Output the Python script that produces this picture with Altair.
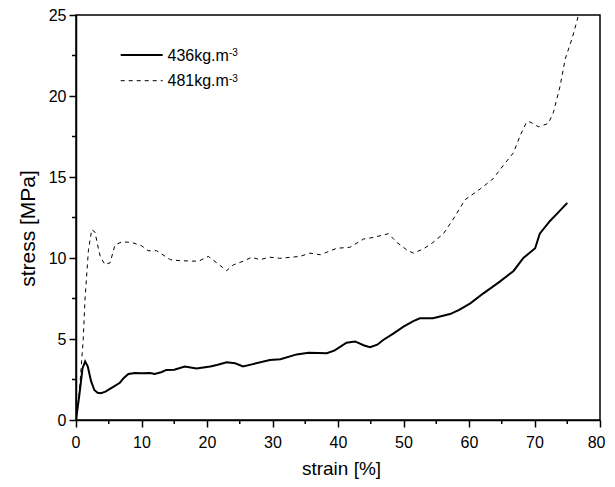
import altair as alt
import pandas as pd

# ---- data ----
x_436 = [0, 0.5, 1.0, 1.4, 1.8, 2.3, 2.8, 3.3, 3.8, 4.5, 5.5, 6.7, 7.3, 8.0, 9.0, 10.0,
         11.3, 12.0, 13.0, 13.8, 15.0, 16.6, 18.4, 20.5, 21.5, 23.0, 24.3, 25.5, 27.0,
         29.6, 31.2, 33.7, 35.5, 38.3, 39.5, 41.3, 42.6, 44.0, 44.9, 46.0, 46.9, 48.5,
         50.0, 51.5, 52.5, 54.5, 57.1, 58.5, 60.2, 62.2, 63.7, 64.7, 66.8, 68.3, 70.1,
         70.8, 72.4, 73.6, 75.0]
y_436 = [0, 1.5, 3.2, 3.62, 3.3, 2.4, 1.85, 1.68, 1.65, 1.75, 2.0, 2.3, 2.6, 2.84, 2.9, 2.88,
         2.9, 2.84, 2.95, 3.09, 3.1, 3.3, 3.18, 3.3, 3.4, 3.57, 3.5, 3.3, 3.45,
         3.7, 3.75, 4.05, 4.15, 4.12, 4.3, 4.77, 4.85, 4.6, 4.49, 4.65, 4.94, 5.35,
         5.76, 6.1, 6.28, 6.28, 6.54, 6.8, 7.2, 7.82, 8.25, 8.54, 9.2, 10.0, 10.6,
         11.5, 12.3, 12.8, 13.4]

x_481 = [0, 0.5, 0.87, 1.1, 1.37, 1.9, 2.4, 2.9, 3.3, 3.7, 4.4, 5.2, 5.95, 7.0, 8.5, 10.0,
         11.0, 12.3, 14.4, 15.9, 18.7, 20.2, 21.5, 23.0, 24.0, 25.5, 26.8, 28.1, 29.6,
         31.1, 34.2, 35.7, 37.3, 39.8, 41.8, 43.9, 45.4, 47.7, 49.0, 50.5, 51.5, 53.0,
         54.5, 56.1, 57.6, 59.4, 61.7, 63.7, 65.2, 66.8, 67.8, 68.8, 69.3, 70.6, 72.1,
         72.9, 73.9, 74.7, 75.7, 76.5, 77.0]
y_481 = [0, 1.65, 3.7, 4.94, 7.4, 10.5, 11.75, 11.6, 10.8, 10.1, 9.6, 9.7, 10.8, 11.0, 10.96, 10.76,
         10.45, 10.45, 9.9, 9.83, 9.8, 10.1, 9.7, 9.22, 9.57, 9.8, 10.04, 9.9, 10.05,
         9.98, 10.1, 10.3, 10.2, 10.6, 10.66, 11.17, 11.27, 11.5, 10.96, 10.5, 10.3, 10.55,
         10.96, 11.5, 12.4, 13.6, 14.26, 14.9, 15.7, 16.5, 17.55, 18.4, 18.4, 18.1, 18.3,
         19.0, 20.6, 22.3, 23.5, 24.65, 25.5]

series = ["436kg.m", "481kg.m"]
sup = "-3"
x_ticks = [0, 10, 20, 30, 40, 50, 60, 70, 80]
x_minor = [5, 15, 25, 35, 45, 55, 65, 75]
y_ticks = [0, 5, 10, 15, 20, 25]
y_minor = [2.5, 7.5, 12.5, 17.5, 22.5]

FONT = "Liberation Sans"

df1 = pd.DataFrame({"strain": x_436, "stress": y_436, "i": range(len(x_436))})
df2 = pd.DataFrame({"strain": x_481, "stress": y_481, "i": range(len(x_481))})

xs = alt.Scale(domain=[0, 80], nice=False, zero=False)
ys = alt.Scale(domain=[0, 25], nice=False, zero=False)

xaxis = alt.Axis(values=x_ticks, title="strain [%]", grid=False, tickSize=7, tickWidth=1.5,
                 domainWidth=1.5, domainColor="black", tickColor="black",
                 labelFontSize=16, labelColor="black", labelFont=FONT,
                 labelBaseline="alphabetic", labelPadding=20.5,
                 labelFlush=True, labelFlushOffset=5,
                 labelOverlap=False, labelBound=False, format="d",
                 titleFontSize=19, titleFont=FONT, titleFontWeight="normal",
                 titleColor="black", titleX=265, titleY=54.5,
                 titleBaseline="alphabetic", titleAlign="center")
yaxis = alt.Axis(values=y_ticks, title="stress [MPa]", grid=False, tickSize=7, tickWidth=1.5,
                 domainWidth=1.5, domainColor="black", tickColor="black",
                 labelFontSize=16, labelColor="black", labelFont=FONT,
                 labelPadding=3, labelBaseline="middle", labelOverlap=False, format="d",
                 titleFontSize=21, titleFont=FONT, titleFontWeight="normal",
                 titleColor="black", titleAngle=270, titleX=-48, titleY=213,
                 titleAlign="center", titleBaseline="middle")

solid = alt.Chart(df1).mark_line(color="black", strokeWidth=2, clip=True).encode(
    x=alt.X("strain:Q", scale=xs, axis=xaxis),
    y=alt.Y("stress:Q", scale=ys, axis=yaxis),
    order="i:Q",
)
dashed = alt.Chart(df2).mark_line(color="black", strokeWidth=1, strokeDash=[4, 4], clip=True).encode(
    x=alt.X("strain:Q", scale=xs),
    y=alt.Y("stress:Q", scale=ys),
    order="i:Q",
)

xminor = alt.Chart(pd.DataFrame({"strain": x_minor})).mark_rule(color="black", strokeWidth=1.5).encode(
    x=alt.X("strain:Q", scale=xs), y=alt.value(405), y2=alt.value(409)
)
yminor = alt.Chart(pd.DataFrame({"stress": y_minor})).mark_rule(color="black", strokeWidth=1.5).encode(
    y=alt.Y("stress:Q", scale=ys), x=alt.value(0), x2=alt.value(-4)
)

legend_layers = []
for k, (name, dash) in enumerate(zip(series, [[1, 0], [4, 4]])):
    dy = 25.7 * k
    ldf = pd.DataFrame({"label": [name], "sup": [sup]})
    legend_layers.append(
        alt.Chart(ldf).mark_rule(color="black", strokeWidth=2 if k == 0 else 1, strokeDash=dash).encode(
            x=alt.value(44.7), x2=alt.value(86.7), y=alt.value(40 + dy)
        )
    )
    legend_layers.append(
        alt.Chart(ldf).mark_text(align="left", baseline="alphabetic", fontSize=16, font=FONT,
                                 color="black").encode(
            x=alt.value(91.5), y=alt.value(45.7 + dy), text="label:N"
        )
    )
    legend_layers.append(
        alt.Chart(ldf).mark_text(align="left", baseline="alphabetic", fontSize=10, font=FONT,
                                 color="black").encode(
            x=alt.value(153), y=alt.value(41 + dy), text="sup:N"
        )
    )

chart = alt.layer(solid, dashed, xminor, yminor, *legend_layers).properties(
    width=524, height=405,
    autosize=alt.AutoSizeParams(type="none"),
    padding={"left": 68, "top": 7, "right": 7, "bottom": 59},
    background="white",
).configure_view(stroke="black", strokeWidth=1.5)

chart.save("out.html", embed_options={"renderer": "svg", "actions": False})
